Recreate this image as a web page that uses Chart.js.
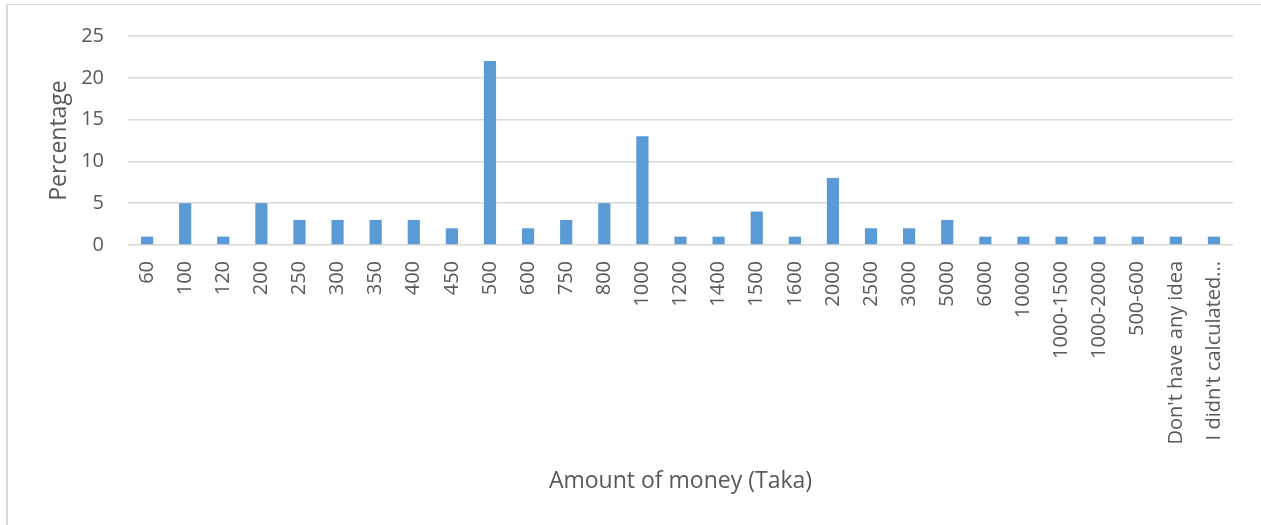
<!DOCTYPE html>
<html>
<head>
<meta charset="utf-8">
<script src="https://cdn.jsdelivr.net/npm/chart.js@4.4.1/dist/chart.umd.min.js"></script>
<style>
  html, body { margin: 0; padding: 0; background: #fff; overflow: hidden; }
  #frame { position: absolute; left: 6px; top: 4px; width: 1400px; height: 700px;
           border-left: 2px solid #d9d9d9; border-top: 1px solid #d9d9d9; }
  #wrap { position: absolute; left: 0; top: 0; width: 1261px; height: 525px; }
</style>
</head>
<body>
<div id="frame"></div>
<div id="wrap"><canvas id="chart" width="1261" height="525"></canvas></div>
<script>
// amount of money vs percentage of respondents
const CATEGORIES = ['60', '100', '120', '200', '250', '300', '350', '400', '450', '500',
  '600', '750', '800', '1000', '1200', '1400', '1500', '1600', '2000', '2500',
  '3000', '5000', '6000', '10000', '1000-1500', '1000-2000', '500-600',
  "Don't have any idea", "I didn't calculated..."];
const PERCENT = [1, 5, 1, 5, 3, 3, 3, 3, 2, 22,
  2, 3, 5, 13, 1, 1, 4, 1, 8, 2,
  2, 3, 1, 1, 1, 1, 1, 1, 1];
const Y_TICKS = [0, 5, 10, 15, 20, 25];

const TEXT = '#595959';
const GRID = '#d9d9d9';
const FONT = "'Open Sans', 'DejaVu Sans', sans-serif";

new Chart(document.getElementById('chart'), {
  type: 'bar',
  data: {
    labels: CATEGORIES,
    datasets: [{
      data: PERCENT,
      backgroundColor: '#5b9bd5',
      borderWidth: 0,
      barPercentage: 0.32,
      categoryPercentage: 1
    }]
  },
  options: {
    responsive: false,
    animation: false,
    layout: { padding: { top: 31, right: 28, left: 0, bottom: 0 } },
    plugins: { legend: { display: false }, tooltip: { enabled: false } },
    scales: {
      x: {
        grid: { display: false },
        border: { display: false },
        ticks: { color: TEXT, font: { family: FONT, size: 20 }, minRotation: 90, maxRotation: 90, padding: 8, autoSkip: false },
        title: { display: true, text: 'Amount of money (Taka)', color: TEXT, font: { family: FONT, size: 23 }, padding: { top: 0, bottom: 30 } },
        afterFit: s => { s.height = 280; }
      },
      y: {
        min: 0, max: 25,
        afterBuildTicks: s => { s.ticks = Y_TICKS.map(v => ({ value: v })); },
        grid: { color: GRID, lineWidth: 1.5, drawTicks: false },
        border: { display: false },
        ticks: { color: TEXT, font: { family: FONT, size: 20 }, padding: 24 },
        title: { display: true, text: 'Percentage', color: TEXT, font: { family: FONT, size: 23 }, padding: { top: 46, bottom: 0 } },
        afterFit: s => { s.width = 128; }
      }
    }
  }
});
</script>
</body>
</html>
